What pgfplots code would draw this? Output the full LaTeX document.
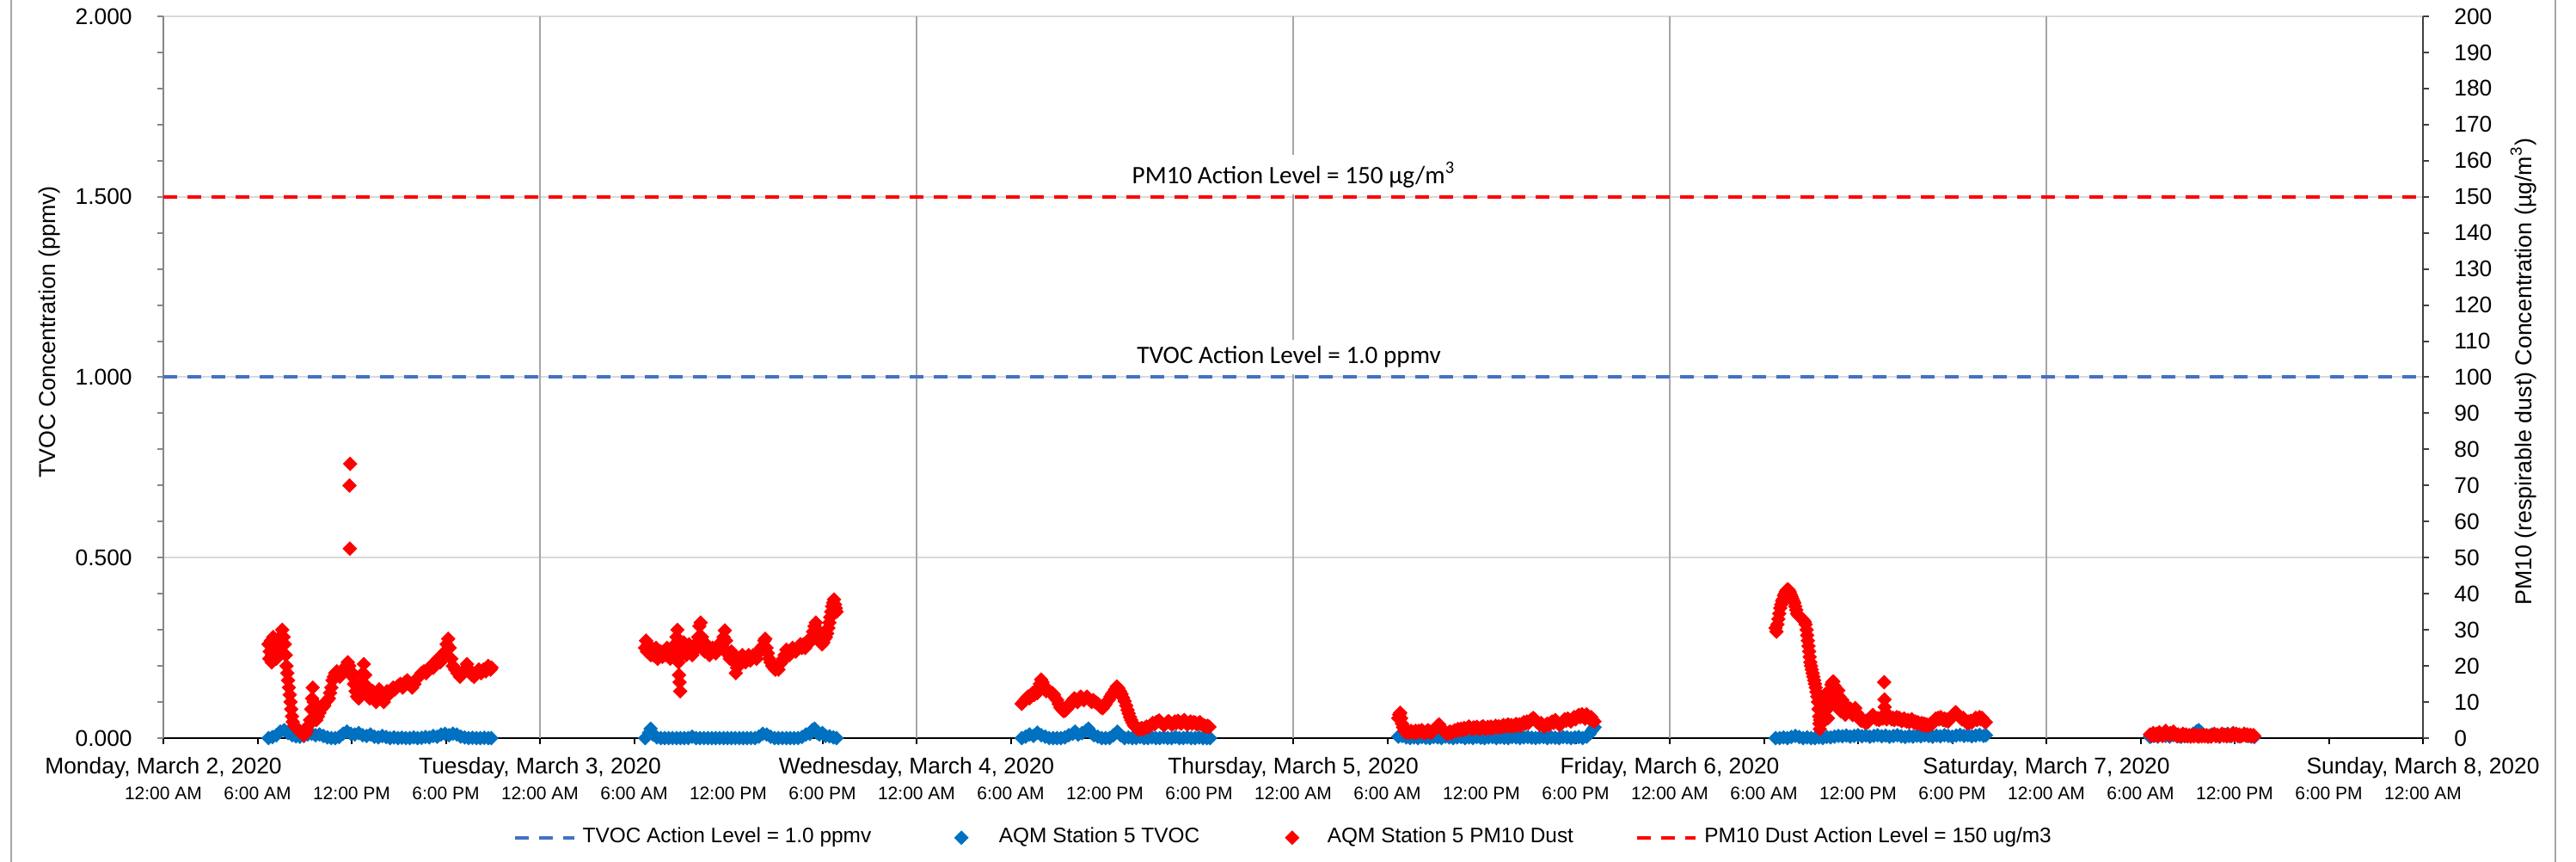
\documentclass[border=0pt]{standalone}
\usepackage{fontspec}
\setmainfont{Liberation Sans}
\newfontfamily\calibri{Carlito}
\usepackage{pgfplots}
\pgfplotsset{compat=1.18}
\definecolor{tvocblue}{HTML}{0070C0}
\definecolor{tvocline}{HTML}{4472C4}
\definecolor{pmred}{HTML}{FF0000}
\definecolor{hgrid}{HTML}{D9D9D9}
\definecolor{vgrid}{HTML}{A6A6A6}
\definecolor{laxis}{HTML}{868686}
\definecolor{raxis}{HTML}{404040}
\definecolor{framec}{HTML}{A6A6A6}
\pgfplotsset{
  common/.style={
    at={(47.5pt,36pt)}, anchor=south west,
    scale only axis, width=657pt, height=209.75pt,
    xmin=0, xmax=144,
    tick align=outside,
    major tick length=1.75pt, minor tick length=1.75pt,
    clip=false,
  },
  dmark/.style={only marks, color=#1, mark=square*, mark size=1.3pt, mark options={rotate=45, draw=none, fill=#1}},
}
\begin{document}
\begin{tikzpicture}
\path[use as bounding box] (0,0) rectangle (749pt,250.5pt);
\draw[framec, line width=0.6pt] (3.25pt,0) -- (3.25pt,250.5pt);
\draw[framec, line width=0.6pt] (743pt,0) -- (743pt,250.5pt);
\begin{axis}[common,
  ymin=0, ymax=2,
  axis x line*=bottom, axis y line*=left,
  x axis line style={black, line width=0.5pt},
  y axis line style={laxis, line width=0.6pt},
  ytick={0,0.5,1,1.5,2},
  yticklabels={0.000,0.500,1.000,1.500,2.000},
  minor y tick num=4,
  ymajorgrids, major grid style={hgrid, line width=0.5pt},
  ytick style={laxis, line width=0.5pt},
  xtick={0,6,...,144},
  xticklabels={12:00 AM,6:00 AM,12:00 PM,6:00 PM,12:00 AM,6:00 AM,12:00 PM,6:00 PM,12:00 AM,6:00 AM,12:00 PM,6:00 PM,12:00 AM,6:00 AM,12:00 PM,6:00 PM,12:00 AM,6:00 AM,12:00 PM,6:00 PM,12:00 AM,6:00 AM,12:00 PM,6:00 PM,12:00 AM},
  xtick style={black, line width=0.5pt},
  extra x ticks={24,48,72,96,120},
  extra x tick labels={},
  extra x tick style={major tick length=0pt, grid=major, major grid style={vgrid, line width=0.5pt}},
  yticklabel style={font=\fontsize{6.6}{7.9}\selectfont, xshift=-3.8pt},
  xticklabel style={font=\fontsize{5.25}{6.3}\selectfont, yshift=-8.95pt},
  ylabel={TVOC Concentration (ppmv)},
  ylabel style={font=\fontsize{6.7}{8}\selectfont, at={(axis description cs:-0.05023,0.5626)}, anchor=center},
]
\addplot[tvocline, line width=1pt, dash pattern=on 4pt off 3pt] coordinates {(0,1) (144,1)};
% AQM Station 5 TVOC
\addplot[dmark=tvocblue] coordinates {
(6.7,0)(6.95,0.003)(7.2,0.008)(7.45,0.018)(7.7,0.022)(7.95,0.014)(8.2,0.008)(8.45,0.005)(8.7,0.004)(8.95,0.006)(9.2,0.01)(9.45,0.012)(9.7,0.008)(9.95,0.01)(10.2,0.006)(10.45,0.002)(10.7,0)(10.95,0)(11.2,0.003)(11.45,0.012)(11.7,0.018)(11.95,0.012)(12.2,0.01)(12.45,0.014)(12.7,0.008)(12.95,0.006)(13.2,0.01)(13.45,0.004)(13.7,0.002)(13.95,0.006)(14.2,0.003)(14.45,0)(14.7,0.002)(14.95,0)(15.2,0.001)(15.45,0)(15.7,0)(15.95,0.002)(16.2,0)(16.45,0.001)(16.7,0.003)(16.95,0.002)(17.2,0.006)(17.45,0.004)(17.7,0.01)(17.95,0.012)(18.2,0.008)(18.45,0.012)(18.7,0.01)(18.95,0.004)(19.2,0.002)(19.45,0)(19.7,0.001)(19.95,0)(20.2,0)(20.45,0.001)(20.7,0)(20.9,0)
(30.7,0)(30.95,0.015)(31.05,0.026)(31.2,0.01)(31.45,0.002)(31.7,0)(31.95,0)(32.2,0)(32.45,0)(32.7,0)(32.95,0)(33.2,0)(33.45,0)(33.7,0.004)(33.95,0)(34.2,0)(34.45,0)(34.7,0)(34.95,0)(35.2,0)(35.45,0)(35.7,0)(35.95,0)(36.2,0)(36.45,0)(36.7,0)(36.95,0)(37.2,0)(37.45,0)(37.7,0)(37.95,0.004)(38.2,0.012)(38.45,0.01)(38.7,0.004)(38.95,0)(39.2,0)(39.45,0)(39.7,0)(39.95,0)(40.2,0)(40.45,0)(40.7,0.003)(40.95,0.01)(41.2,0.012)(41.35,0.022)(41.5,0.026)(41.65,0.015)(41.8,0.01)(42.0,0.014)(42.2,0.006)(42.45,0.005)(42.7,0.002)(42.9,0)
(54.7,0)(54.95,0.004)(55.2,0.01)(55.45,0.006)(55.7,0.015)(55.95,0.008)(56.2,0.004)(56.45,0)(56.7,0)(56.95,0)(57.2,0)(57.45,0.002)(57.7,0.008)(57.95,0.012)(58.1,0.018)(58.3,0.01)(58.55,0.014)(58.8,0.02)(58.95,0.026)(59.1,0.016)(59.3,0.008)(59.55,0.004)(59.8,0)(60.05,0)(60.3,0)(60.55,0.008)(60.8,0.018)(61.0,0.008)(61.25,0)(61.5,0.002)(61.75,0)(62.0,0)(62.25,0.003)(62.5,0)(62.75,0)(63.0,0.002)(63.25,0)(63.5,0)(63.75,0.002)(64.0,0)(64.25,0)(64.5,0.003)(64.75,0)(65.0,0)(65.25,0.002)(65.5,0)(65.75,0)(66.0,0.002)(66.25,0)(66.5,0)(66.7,0)
(78.7,0.004)(78.95,0.006)(79.2,0.002)(79.45,0)(79.7,0.002)(79.95,0)(80.2,0.003)(80.45,0.001)(80.7,0)(80.95,0.003)(81.2,0.002)(81.45,0)(81.7,0.004)(81.95,0.002)(82.2,0)(82.45,0.002)(82.7,0.003)(82.95,0)(83.2,0.002)(83.45,0)(83.7,0.003)(83.95,0.001)(84.2,0)(84.45,0.002)(84.7,0.003)(84.95,0)(85.2,0.002)(85.45,0.001)(85.7,0)(85.95,0.003)(86.2,0.002)(86.45,0)(86.7,0.002)(86.95,0.003)(87.2,0.001)(87.45,0)(87.7,0.002)(87.95,0.003)(88.2,0)(88.45,0.002)(88.7,0.001)(88.95,0)(89.2,0.003)(89.45,0.002)(89.7,0)(89.95,0.002)(90.2,0.003)(90.45,0)(90.7,0.004)(90.9,0.012)(91.02,0.02)(91.12,0.026)(91.2,0.03)
(102.75,0)(103.0,0)(103.25,0.002)(103.5,0)(103.75,0.003)(104.0,0.006)(104.25,0.003)(104.5,0)(104.75,0.002)(105.0,0)(105.25,0)(105.5,0.002)(105.75,0)(106.0,0.003)(106.25,0.002)(106.5,0.004)(106.75,0.006)(107.0,0.005)(107.25,0.007)(107.5,0.004)(107.75,0.006)(108.0,0.008)(108.25,0.005)(108.5,0.007)(108.75,0.004)(109.0,0.006)(109.25,0.008)(109.5,0.005)(109.75,0.007)(110.0,0.004)(110.25,0.006)(110.5,0.008)(110.75,0.005)(111.0,0.003)(111.25,0.006)(111.5,0.004)(111.75,0.007)(112.0,0.005)(112.25,0.008)(112.5,0.006)(112.75,0.004)(113.0,0.007)(113.25,0.005)(113.5,0.008)(113.75,0.006)(114.0,0.004)(114.25,0.007)(114.5,0.009)(114.75,0.006)(115.0,0.008)(115.25,0.005)(115.5,0.007)(115.75,0.009)(116.0,0.006)(116.15,0.008)
(126.6,0.003)(126.85,0.006)(127.1,0.004)(127.35,0.008)(127.6,0.006)(127.85,0.004)(128.1,0.008)(128.35,0.005)(128.6,0.004)(128.85,0.006)(129.1,0.008)(129.35,0.012)(129.55,0.018)(129.7,0.022)(129.85,0.016)(130.05,0.008)(130.3,0.005)(130.55,0.01)(130.8,0.006)(131.05,0.004)(131.3,0.009)(131.55,0.012)(131.8,0.006)(132.05,0.01)(132.3,0.005)(132.55,0.009)(132.8,0.006)(133.05,0.004)(133.25,0.003)
};
\node[font=\calibri\fontsize{7.3}{8.8}\selectfont, fill=white, inner xsep=1pt, inner ysep=2pt] at (axis cs:72.05,1.5614) {PM10 Action Level = 150 µg/m\textsuperscript{3}};
\node[font=\calibri\fontsize{7.3}{8.8}\selectfont, fill=white, inner xsep=1pt, inner ysep=2pt] at (axis cs:71.73,1.056) {TVOC Action Level = 1.0 ppmv};
\end{axis}
\begin{axis}[common,
  ymin=0, ymax=200,
  axis x line*=bottom, axis y line*=right,
  x axis line style={draw=none},
  xtick={0,24,...,144},
  xticklabels={{Monday, March 2, 2020},{Tuesday, March 3, 2020},{Wednesday, March 4, 2020},{Thursday, March 5, 2020},{Friday, March 6, 2020},{Saturday, March 7, 2020},{Sunday, March 8, 2020}},
  xtick style={draw=none},
  xticklabel style={font=\fontsize{6.6}{7.9}\selectfont, yshift=-0.4pt},
  ytick={0,10,...,200},
  ytick style={raxis, line width=0.5pt},
  y axis line style={raxis, line width=0.6pt},
  /pgf/number format/assume math mode=true,
  yticklabel style={font=\fontsize{6.6}{7.9}\selectfont, xshift=3.8pt},
  ylabel={PM10 (respirable dust) Concentration (µg/m\textsuperscript{3})},
  ylabel style={font=\fontsize{6.7}{8}\selectfont, at={(axis description cs:1.04452,0.5077)}, anchor=center},
  legend columns=4,
  legend style={at={(0.4968,-0.138)}, anchor=center, draw=none, fill=none, font=\fontsize{6.1}{7.3}\selectfont,
    /tikz/column 2/.style={column sep=22.4pt},
    /tikz/column 3/.style={column sep=7.1pt},
    /tikz/column 4/.style={column sep=23.1pt},
    /tikz/column 5/.style={column sep=6.4pt},
    /tikz/column 6/.style={column sep=16pt}},
]
\addlegendimage{tvocline, line width=1pt, dash pattern=on 4pt off 3pt}
\addlegendentry{TVOC Action Level = 1.0 ppmv}
\addlegendimage{dmark=tvocblue}
\addlegendentry{AQM Station 5 TVOC}
% AQM Station 5 PM10 Dust
\addplot[dmark=pmred] coordinates {
(6.70,26)(6.75,22)(6.78,24)(6.86,27)(6.90,21)(6.94,23)(7.00,28)(7.02,25)(7.10,26)(7.18,24)(7.20,22)(7.26,27)(7.34,25)(7.40,23)(7.42,28)(7.50,27)(7.58,30)(7.66,28)(7.74,26)(7.80,23)(7.85,20)(7.90,18)(7.95,16)(8.00,14)(8.05,12)(8.10,10)(8.15,8)(8.20,6)(8.25,4.5)(8.35,3.5)(8.45,3)(8.55,2.5)(8.65,2)(8.75,1.5)(8.85,1.2)(8.95,0.8)(9.05,1.2)(9.15,2)(9.25,3.5)(9.35,5)(9.42,8)(9.48,11)(9.52,14)(9.58,10)(9.65,7)(9.75,5)(9.85,6)(9.95,7)(10.05,8)(10.15,8.5)(10.25,9)(10.35,10)(10.45,10.5)(10.55,11)(10.62,12.5)(10.70,14)(10.78,16)(10.86,17)(10.95,18)(11.05,18.5)(11.15,18)(11.25,17)(11.35,17.5)(11.45,18)(11.55,19)(11.65,20)(11.75,21)(11.85,20)(11.95,18.5)(12.05,17)(12.15,15)(12.25,13)(12.35,11.5)(12.45,11)(12.55,13)(12.62,15.5)(12.70,18)(12.78,20.5)(12.86,17.5)(12.95,14.5)(13.05,12.5)(13.15,11)(13.25,12)(13.35,13)(13.45,11.5)(13.55,10)(13.65,11.5)(13.75,13.5)(13.85,13)(13.95,11)(14.05,10)(14.15,11.5)(14.25,13)(14.35,12)(14.45,12.5)(14.55,13)(14.65,14)(14.75,13.5)(14.85,14)(14.95,14.5)(15.10,15)(15.25,14)(15.40,15.5)(15.55,16)(15.70,15)(15.85,14)(16.00,15)(16.15,16.5)(16.30,17)(16.45,18)(16.60,18.5)(16.75,18)(16.90,19)(17.05,20)(17.20,19.5)(17.35,21)(17.50,22)(17.65,21)(17.80,23)(17.95,24)(18.05,26)(18.15,27.5)(18.25,25)(18.35,22)(18.45,20)(18.60,19)(18.75,18)(18.90,17)(19.05,18)(19.20,19)(19.35,20.5)(19.50,19)(19.65,17.5)(19.80,17)(19.95,18)(20.10,19)(20.25,18)(20.40,19)(20.55,18.5)(20.70,20)(20.85,19)(20.92,19.5)
(11.88,52.5)(11.86,70)(11.90,76)
(30.70,25)(30.76,27)(30.82,24)(30.90,26)(30.98,24)(31.06,23)(31.14,25)(31.22,23)(31.30,24)(31.40,25)(31.50,22)(31.60,23)(31.70,24)(31.80,22.5)(31.90,24)(32.00,23)(32.10,25)(32.20,24)(32.30,22)(32.40,23)(32.50,24)(32.60,26)(32.70,28)(32.76,30)(32.80,26)(32.83,21)(32.86,17.5)(32.90,15.5)(32.94,13)(33.00,23)(33.08,25)(33.16,26.5)(33.24,25)(33.32,23)(33.40,24)(33.50,26)(33.60,25)(33.70,23)(33.80,24)(33.90,26)(34.00,25)(34.08,28)(34.16,31)(34.24,32)(34.32,28)(34.40,25)(34.50,24)(34.60,26)(34.70,24.5)(34.80,23)(34.90,24)(35.00,25)(35.10,24)(35.20,23.5)(35.30,25)(35.40,26)(35.50,25)(35.60,26.5)(35.70,28)(35.78,29.8)(35.86,27)(35.94,24)(36.02,23)(36.10,22)(36.20,24)(36.30,22.5)(36.40,21)(36.48,18)(36.56,19.5)(36.64,21)(36.72,22)(36.80,22.5)(36.90,23)(37.00,22)(37.10,21)(37.20,22)(37.30,23)(37.40,21.5)(37.50,22)(37.60,23)(37.70,22.5)(37.80,22)(37.90,23.5)(38.00,24)(38.10,25)(38.20,25.5)(38.30,27)(38.36,27.5)(38.44,25)(38.52,23.5)(38.60,22)(38.70,21)(38.80,20)(38.90,19.5)(39.00,19)(39.10,20)(39.20,19)(39.30,20.5)(39.40,21)(39.50,22)(39.60,23)(39.70,24.5)(39.80,24)(39.90,23)(40.00,24)(40.10,25)(40.20,24.5)(40.30,24)(40.40,25)(40.50,25.5)(40.60,26)(40.70,25)(40.80,26)(40.90,25)(41.00,26)(41.10,27)(41.20,26.5)(41.30,28)(41.40,29.5)(41.50,31)(41.58,32)(41.66,30)(41.74,29)(41.82,28)(41.90,27)(41.98,26)(42.06,26.5)(42.14,27.5)(42.22,28)(42.30,29)(42.38,30.5)(42.44,32)(42.50,33.5)(42.56,35)(42.62,36.5)(42.68,37.5)(42.74,38.4)(42.80,37)(42.86,36)(42.90,35)
(54.70,9.5)(54.80,10)(54.90,10.5)(55.00,11)(55.10,11.5)(55.20,11)(55.30,12)(55.40,12.5)(55.50,12)(55.60,13)(55.70,12.5)(55.78,14)(55.86,15)(55.94,16.2)(56.02,15.5)(56.10,14)(56.18,13.5)(56.26,13)(56.36,13.5)(56.46,13)(56.56,12.5)(56.66,12.5)(56.76,12)(56.86,11)(56.96,10.5)(57.06,9.5)(57.16,8.5)(57.26,8)(57.36,7.5)(57.46,7.6)(57.56,8)(57.66,8.5)(57.76,9.5)(57.86,10)(57.96,10.5)(58.06,11)(58.16,10.5)(58.26,10)(58.36,10.8)(58.46,11.5)(58.56,11)(58.66,10.5)(58.76,11)(58.86,11.5)(58.96,11)(59.06,10.5)(59.16,10)(59.26,10.5)(59.36,10)(59.46,9.8)(59.56,9.5)(59.66,9)(59.76,8.5)(59.86,8.3)(59.96,9)(60.06,9.5)(60.16,10.2)(60.26,10.7)(60.36,11.5)(60.46,12.2)(60.56,12.8)(60.66,13.5)(60.76,14.3)(60.86,13.8)(60.96,13)(61.06,12.2)(61.16,11.2)(61.26,10.2)(61.36,9)(61.44,7.8)(61.52,6.8)(61.60,5.8)(61.68,5)(61.76,4.2)(61.86,3.5)(61.96,3)(62.06,2.6)(62.16,2.4)(62.26,2.6)(62.36,2.8)(62.46,2.5)(62.56,2.9)(62.66,3.2)(62.76,3.0)(62.86,3.4)(62.96,3.8)(63.06,4.2)(63.16,3.8)(63.26,4.4)(63.36,4.6)(63.46,4.9)(63.56,4.4)(63.66,4.0)(63.76,3.6)(63.86,3.9)(63.96,4.4)(64.06,4.7)(64.16,4.2)(64.26,3.8)(64.36,4.0)(64.46,4.6)(64.56,4.2)(64.66,4.8)(64.76,4.4)(64.86,4.0)(64.96,4.6)(65.06,5.0)(65.16,4.2)(65.26,3.8)(65.36,4.2)(65.46,4.6)(65.56,4.0)(65.66,4.4)(65.76,4.3)(65.86,3.8)(65.96,4.1)(66.06,4.4)(66.16,3.8)(66.26,3.6)(66.36,3.4)(66.46,3.2)(66.56,3.4)(66.66,3.1)
(78.70,5.5)(78.76,6.5)(78.82,7)(78.88,5.5)(78.94,4)(79.00,3)(79.10,2)(79.20,1.5)(79.30,2)(79.40,1.5)(79.50,2)(79.60,1.7)(79.70,1.4)(79.80,2)(79.90,1.6)(80.00,2)(80.10,1.8)(80.20,2.2)(80.30,1.6)(80.40,1.4)(80.50,1.8)(80.60,2.2)(80.70,1.8)(80.80,1.5)(80.90,2)(81.00,2.4)(81.10,2.8)(81.20,3.4)(81.30,3.8)(81.40,3)(81.50,2.4)(81.60,2)(81.70,1.6)(81.80,1.2)(81.90,1.5)(82.00,1.8)(82.10,1.4)(82.20,1.8)(82.30,2.2)(82.40,2)(82.50,2.5)(82.60,2.2)(82.70,2.6)(82.80,2.2)(82.90,2.8)(83.00,2.5)(83.10,2.8)(83.20,3.2)(83.30,2.8)(83.40,2.5)(83.50,3)(83.60,2.7)(83.70,3.1)(83.80,2.8)(83.90,2.5)(84.00,3)(84.10,3.3)(84.20,2.8)(84.30,2.6)(84.40,3.1)(84.50,2.8)(84.60,3.2)(84.70,2.7)(84.80,3)(84.90,3.4)(85.00,3)(85.10,3.3)(85.20,2.9)(85.30,3.2)(85.40,3.6)(85.50,3.2)(85.60,3.5)(85.70,3.8)(85.80,3.3)(85.90,3.6)(86.00,3.2)(86.10,3.5)(86.20,3.9)(86.30,3.5)(86.40,3.8)(86.50,3.4)(86.60,4)(86.70,4.4)(86.80,4)(86.90,4.6)(87.00,4.2)(87.10,4.8)(87.20,5.2)(87.30,5.6)(87.40,5.2)(87.50,4.6)(87.60,4.2)(87.70,3.8)(87.80,4.2)(87.90,3.6)(88.00,3.2)(88.10,3.6)(88.20,4)(88.30,3.6)(88.40,4.2)(88.50,4.6)(88.60,4.2)(88.70,5)(88.80,4.4)(88.90,4)(89.00,3.6)(89.10,4.2)(89.20,4.6)(89.30,5.2)(89.40,4.8)(89.50,5.4)(89.60,5)(89.70,4.6)(89.80,5.2)(89.90,5.8)(90.00,5.2)(90.10,6)(90.20,6.4)(90.30,5.8)(90.40,6.6)(90.50,6.2)(90.60,5.4)(90.70,6.6)(90.80,6)(90.90,5.2)(91.00,5.8)(91.10,5)(91.20,4.6)
(102.74,30.5)(102.80,29.5)(102.86,31.5)(102.92,33)(102.98,34.5)(103.04,36)(103.10,37)(103.16,38)(103.22,38.5)(103.28,39.5)(103.34,40)(103.40,40.6)(103.46,41)(103.52,41.2)(103.58,41)(103.64,40.5)(103.70,39.8)(103.76,39.2)(103.82,38.6)(103.88,38)(103.94,37.5)(104.00,36.5)(104.06,35.5)(104.12,34.5)(104.20,34)(104.30,33.5)(104.40,33.2)(104.50,32.8)(104.60,32.2)(104.66,31.5)(104.72,30)(104.76,28.5)(104.80,27)(104.84,25.5)(104.88,24)(104.92,22.5)(104.96,21)(105.00,20)(105.05,19)(105.10,18)(105.15,17)(105.20,16)(105.25,15)(105.30,14)(105.35,12.8)(105.40,11.5)(105.44,10)(105.48,8)(105.52,6)(105.54,4)(105.56,2.5)(105.58,5)(105.60,8.5)(105.64,11)(105.70,9.5)(105.74,7)(105.78,4.5)(105.82,8)(105.86,11)(105.92,12.2)(105.98,10.5)(106.04,8)(106.08,5.5)(106.12,9)(106.18,12)(106.24,13.5)(106.30,14.8)(106.36,15.5)(106.42,15.7)(106.48,14.5)(106.54,13)(106.58,11)(106.62,9)(106.68,12)(106.74,13.2)(106.80,11.5)(106.84,9.5)(106.88,7.5)(106.94,9.5)(107.00,10.5)(107.06,9)(107.12,7.5)(107.18,6.5)(107.26,7.5)(107.34,8.5)(107.42,7.5)(107.50,8.2)(107.58,7)(107.66,6.4)(107.74,7.2)(107.82,8.3)(107.90,7)(107.98,6)(108.06,5.6)(108.14,5)(108.22,4.8)(108.30,5.2)(108.38,4.6)(108.46,4.3)(108.54,4.8)(108.62,4.4)(108.70,5.2)(108.78,5.6)(108.86,6)(108.94,6.4)(109.02,6)(109.10,5.6)(109.18,5.2)(109.26,5.5)(109.34,5)(109.42,5.4)(109.50,5.9)(109.58,5.4)(109.66,15.5)(109.68,10.7)(109.70,8.6)(109.74,5.6)(109.82,5.2)(109.90,5.8)(109.98,6.2)(110.06,5.8)(110.14,5.2)(110.22,5.6)(110.30,5)(110.38,5.4)(110.46,5.8)(110.54,5.2)(110.62,5.6)(110.70,5)(110.78,4.7)(110.86,5.2)(110.94,5.4)(111.02,4.8)(111.10,4.6)(111.18,5)(111.26,4.4)(111.34,4.8)(111.42,5.2)(111.50,4.6)(111.58,4.2)(111.66,4.6)(111.74,4.1)(111.82,4.4)(111.90,4)(111.98,3.8)(112.06,4.2)(112.14,3.6)(112.22,4)(112.30,3.5)(112.38,3.8)(112.46,3.4)(112.54,3.7)(112.62,4)(112.70,3.8)(112.78,4.4)(112.86,4.8)(112.94,5.4)(113.02,5.2)(113.10,5.6)(113.18,5.2)(113.26,5.8)(113.34,5.4)(113.42,5)(113.50,5.4)(113.58,4.8)(113.66,5.2)(113.74,4.6)(113.82,5)(113.90,5.6)(113.98,6)(114.06,6.4)(114.14,6.8)(114.22,7.2)(114.30,6.8)(114.38,6.4)(114.46,6)(114.54,5.6)(114.62,5.2)(114.70,5.6)(114.78,5)(114.86,4.6)(114.94,4.2)(115.02,4.6)(115.10,4.2)(115.18,4.8)(115.26,4.4)(115.34,4.8)(115.42,5.2)(115.50,5.6)(115.58,5)(115.66,5.4)(115.74,5.8)(115.82,5.2)(115.90,5.6)(115.98,5)(116.06,4.6)(116.14,4.4)
(126.60,1)(126.70,0.6)(126.80,1.4)(126.90,0.8)(127.00,1.2)(127.10,0.6)(127.20,1.6)(127.30,1)(127.40,0.6)(127.50,1.4)(127.60,2)(127.70,1.2)(127.80,0.8)(127.90,1.4)(128.00,1)(128.10,1.8)(128.20,1.2)(128.30,0.6)(128.40,1)(128.50,0.5)(128.60,0.8)(128.70,1.2)(128.80,0.6)(128.90,1)(129.00,0.5)(129.10,0.8)(129.20,0.4)(129.30,0.8)(129.40,0.5)(129.50,1)(129.60,0.6)(129.70,0.4)(129.80,0.8)(129.90,0.5)(130.00,0.9)(130.10,0.5)(130.20,0.8)(130.30,0.4)(130.40,0.7)(130.50,0.4)(130.60,0.8)(130.70,1.2)(130.80,0.6)(130.90,0.9)(131.00,0.5)(131.10,0.8)(131.20,1.2)(131.30,0.6)(131.40,0.9)(131.50,0.5)(131.60,1)(131.70,0.6)(131.80,1)(131.90,1.4)(132.00,0.8)(132.10,1.2)(132.20,0.6)(132.30,1)(132.40,0.5)(132.50,0.8)(132.60,1.2)(132.70,0.7)(132.80,1)(132.90,0.6)(133.00,0.9)(133.10,0.6)(133.20,0.8)(133.25,0.5)
};
\addlegendentry{AQM Station 5 PM10 Dust}
\addplot[pmred, line width=1pt, dash pattern=on 4pt off 3pt] coordinates {(0,150) (144,150)};
\addlegendentry{PM10 Dust Action Level = 150 ug/m3}
\end{axis}
\end{tikzpicture}
\end{document}
